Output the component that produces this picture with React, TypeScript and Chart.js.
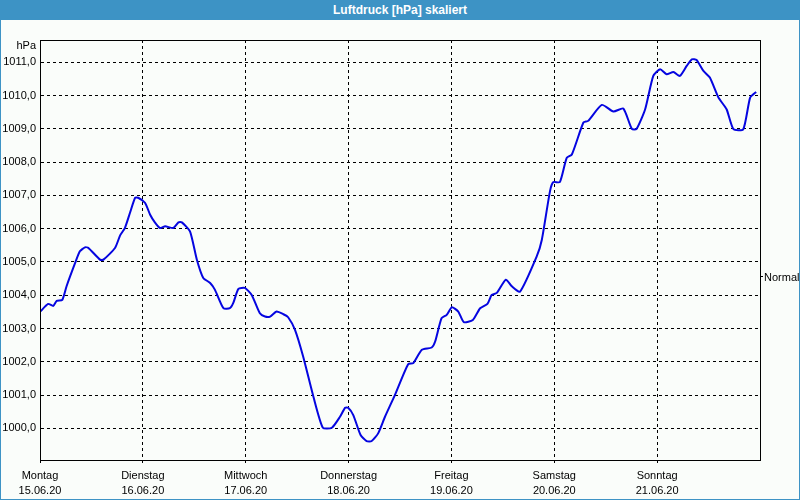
import React, { useEffect, useRef } from "react";
import { Chart, registerables } from "chart.js";

Chart.register(...registerables);

// hours since Monday 15.06.20 00:00
const hours = [
  0, 1.9, 3.1, 3.9, 5.2, 6.2, 8.2, 9.3, 10.5, 11.3, 14.0, 14.8, 17.5, 18.7, 19.8, 21.0, 22.2, 22.9,
  24.5, 25.7, 26.8, 28.0, 29.2, 31.1, 32.3, 33.1, 35.0, 36.6, 38.1, 39.7, 40.8, 42.8, 44.3, 45.1,
  46.3, 47.8, 49.4, 51.3, 52.5, 53.7, 55.2, 56.8, 57.9, 59.5, 61.4, 63.8, 66.0, 68.1, 70.0, 71.2,
  71.9, 73.1, 74.8, 76.2, 77.4, 78.9, 80.5, 82.8, 85.9, 87.1, 89.1, 91.4, 92.2, 93.7, 94.9, 96.1,
  97.6, 98.9, 101.0, 102.7, 104.4, 105.4, 106.6, 108.7, 110.1, 112.0, 115.9, 117.1, 119.0, 119.8,
  121.3, 122.9, 124.1, 126.8, 127.9, 131.1, 133.8, 136.1, 138.1, 139.2, 141.2, 143.1, 144.7, 146.2,
  147.8, 149.3, 150.9, 152.1, 153.2, 154.8, 156.3, 158.3, 160.2, 161.8, 164.1, 165.7, 167.1,
];

const pressure = [
  1003.5, 1003.74, 1003.68, 1003.83, 1003.86, 1004.27, 1004.97, 1005.32, 1005.44, 1005.42, 1005.07,
  1005.07, 1005.42, 1005.8, 1006.02, 1006.48, 1006.93, 1006.93,
  1006.78, 1006.42, 1006.19, 1006.02, 1006.07, 1006.02, 1006.19, 1006.19, 1005.92, 1005.07, 1004.52,
  1004.37, 1004.17, 1003.61, 1003.61, 1003.77,
  1004.19, 1004.22, 1004.01, 1003.46, 1003.36, 1003.36, 1003.51, 1003.43, 1003.34, 1002.96, 1002.16,
  1000.95, 1000.02, 1000.02, 1000.35, 1000.62,
  1000.62, 1000.4, 999.8, 999.62, 999.62, 999.85, 1000.35, 1001.0, 1001.93, 1001.96, 1002.36,
  1002.43, 1002.61, 1003.31, 1003.41, 1003.64,
  1003.51, 1003.19, 1003.26, 1003.61, 1003.74, 1004.01, 1004.07, 1004.47, 1004.27, 1004.11, 1005.17,
  1005.67, 1007.13, 1007.4,
  1007.4, 1008.13, 1008.23, 1009.19, 1009.24, 1009.72, 1009.52, 1009.61, 1009.0, 1009.0, 1009.59,
  1010.59, 1010.79, 1010.64,
  1010.71, 1010.59, 1010.89, 1011.09, 1011.07, 1010.74, 1010.54, 1009.94, 1009.59, 1008.99, 1008.99,
  1009.94, 1010.11,
];

const dayNames = ["Montag", "Dienstag", "Mittwoch", "Donnerstag", "Freitag", "Samstag", "Sonntag"];
const dayDates = ["15.06.20", "16.06.20", "17.06.20", "18.06.20", "19.06.20", "20.06.20", "21.06.20"];

const TITLE = "Luftdruck [hPa] skaliert";
const UNIT = "hPa";
const NORMAL_LABEL = "Normal";
const NORMAL_VALUE = 1004.57;
const Y_MIN = 999.05;
const Y_MAX = 1011.67;
const X_MAX = 168;

const FONT = "'Liberation Sans', Arial, sans-serif";

export default function App() {
  const canvasRef = useRef<HTMLCanvasElement | null>(null);

  useEffect(() => {
    const canvas = canvasRef.current;
    if (!canvas) return;

    const framePlugin = {
      id: "frame",
      afterDraw(chart: any) {
        const { ctx, chartArea } = chart;
        const ys = chart.scales.y;
        ctx.save();
        ctx.strokeStyle = "#000";
        ctx.lineWidth = 1;
        ctx.setLineDash([]);
        ctx.strokeRect(chartArea.left + 0.5, chartArea.top + 0.5, chartArea.right - chartArea.left, chartArea.bottom - chartArea.top);
        // unit label
        ctx.fillStyle = "#000";
        ctx.font = `11px ${FONT}`;
        ctx.textAlign = "right";
        ctx.textBaseline = "middle";
        ctx.fillText(UNIT, chartArea.left - 4, chartArea.top + 6);
        // normal marker
        const ny = Math.round(ys.getPixelForValue(NORMAL_VALUE)) + 0.5;
        ctx.beginPath();
        ctx.moveTo(chartArea.right, ny);
        ctx.lineTo(chartArea.right + 3, ny);
        ctx.stroke();
        ctx.textAlign = "left";
        ctx.fillText(NORMAL_LABEL, chartArea.right + 4, ny + 1);
        ctx.restore();
      },
    };

    const chart = new Chart(canvas, {
      type: "line",
      data: {
        datasets: [
          {
            data: hours.map((h, i) => ({ x: h, y: pressure[i] })),
            borderColor: "#0505e0",
            borderWidth: 2,
            pointRadius: 0,
            tension: 0.2,
            fill: false,
          },
        ],
      },
      options: {
        animation: false,
        responsive: false,
        maintainAspectRatio: false,
        events: [],
        layout: { padding: { top: 40, right: 40, left: 0, bottom: 0 } },
        plugins: {
          legend: { display: false },
          title: { display: false },
          tooltip: { enabled: false },
        },
        scales: {
          x: {
            type: "linear",
            min: 0,
            max: X_MAX,
            afterFit(scale: any) {
              scale.height = 40;
            },
            afterBuildTicks(scale: any) {
              const t = [];
              for (let v = 0; v < X_MAX; v += 24) t.push({ value: v });
              scale.ticks = t;
            },
            ticks: {
              autoSkip: false,
              maxRotation: 0,
              minRotation: 0,
              padding: 5,
              color: "#000",
              font: { family: FONT, size: 11, lineHeight: "15px" as any },
              callback: (v: any) => {
                const i = Math.round(Number(v) / 24);
                if (i < 0 || i >= dayNames.length) return "";
                return [dayNames[i], dayDates[i]];
              },
            },
            grid: {
              color: "#000",
              lineWidth: 1,
              drawTicks: true,
              tickLength: 3,
              tickColor: "#000",
              tickBorderDash: [],
            } as any,
            border: { display: true, color: "#000", width: 1, dash: [3, 3] },
          },
          y: {
            type: "linear",
            min: Y_MIN,
            max: Y_MAX,
            afterFit(scale: any) {
              scale.width = 40;
            },
            ticks: {
              stepSize: 1,
              includeBounds: false,
              padding: 4,
              color: "#000",
              font: { family: FONT, size: 11 },
              callback: (v: any) => Number(v).toFixed(1).replace(".", ","),
            } as any,
            grid: {
              color: "#000",
              lineWidth: 1,
              drawTicks: false,
            },
            border: { display: true, color: "#000", width: 1, dash: [3, 3] },
          },
        },
      },
      plugins: [framePlugin],
    });

    return () => chart.destroy();
  }, []);

  return (
    <div
      style={{
        position: "fixed",
        left: 0,
        top: 0,
        width: 800,
        height: 500,
        background: "#3d93c5",
        overflow: "hidden",
      }}
    >
      <div
        style={{
          position: "absolute",
          left: 0,
          top: 0,
          width: 800,
          height: 20,
          lineHeight: "20px",
          textAlign: "center",
          color: "#fff",
          fontFamily: FONT,
          fontWeight: "bold",
          fontSize: 12,
        }}
      >
        {TITLE}
      </div>
      <div
        style={{
          position: "absolute",
          left: 1,
          top: 20,
          width: 798,
          height: 479,
          background: "#fafdfa",
        }}
      />
      <canvas
        ref={canvasRef}
        width={800}
        height={500}
        style={{ position: "absolute", left: 0, top: 0, width: 800, height: 500 }}
      />
    </div>
  );
}
